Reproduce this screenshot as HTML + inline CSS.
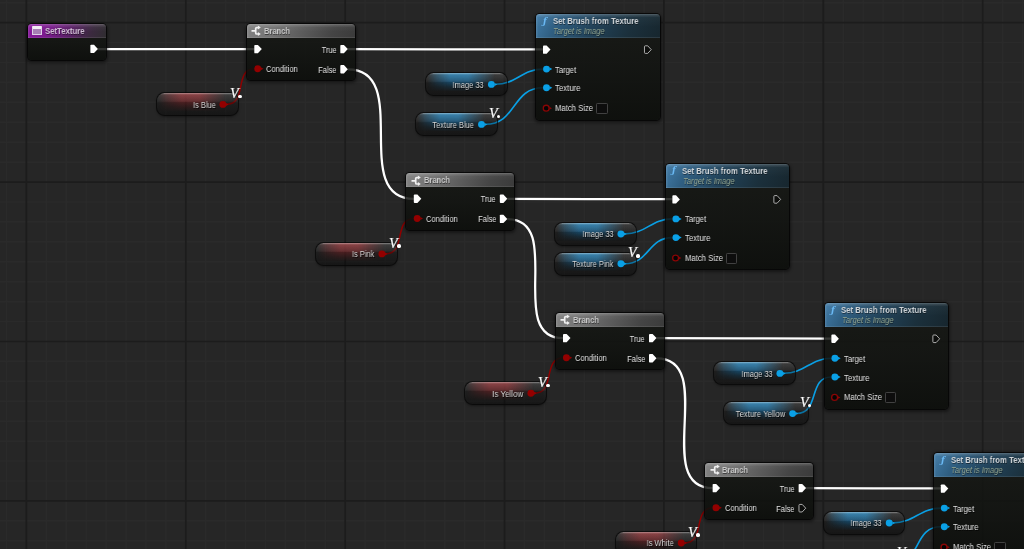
<!DOCTYPE html>
<html lang="en"><head><meta charset="utf-8"><title>SetTexture Blueprint</title>
<style>
*{margin:0;padding:0;box-sizing:border-box}
html,body{width:1024px;height:549px;overflow:hidden;background:#262626}
body{position:relative;font-family:"Liberation Sans",sans-serif;font-size:8.8px;color:#e4e4e4}
#grid{position:absolute;left:0;top:0;width:1024px;height:549px;}
#wires,#pins{position:absolute;left:0;top:0;width:1024px;height:549px;overflow:hidden}
.node{position:absolute}
.bd{position:absolute;left:.5px;right:.5px;top:.55px;bottom:.1px;border-radius:4px;background:linear-gradient(180deg,rgba(22,24,20,.84) 0,rgba(17,19,16,.85) 50%,rgba(11,13,10,.87) 100%);
 box-shadow:0 0 0 1px rgba(4,4,4,.8),0 1.2px 3px 1.2px rgba(0,0,0,.42)}
.hd{position:absolute;left:0;top:0;right:0;border-radius:3.6px 3.6px 0 0;overflow:hidden}
.hd:after{content:"";position:absolute;left:0;top:0;right:0;bottom:0;
 background:linear-gradient(90deg,rgba(255,255,255,.12) 0,rgba(255,255,255,.05) 1.2px,rgba(255,255,255,0) 2.2px),linear-gradient(0deg,rgba(255,255,255,.09) 0,rgba(255,255,255,.09) .9px,rgba(255,255,255,0) 1px),
 linear-gradient(180deg,rgba(255,255,255,.26) 0,rgba(255,255,255,.13) 1.4px,rgba(255,255,255,.03) 3.5px,rgba(255,255,255,0) 55%)}
.t{position:absolute;white-space:nowrap;line-height:10px;height:10px;text-shadow:0.7px 0.8px 0.3px rgba(0,0,0,.85);
 transform-origin:0 50%;transform:scaleX(.85);will-change:transform}
.b{font-weight:bold;font-size:9.8px;transform:scaleX(.79);text-shadow:0.6px 0.7px 0.5px rgba(0,0,0,.45)}
.r{text-align:right;transform-origin:100% 50%}
.var{position:absolute;border-radius:7.5px;height:22.5px;
 box-shadow:0 0 0 1px rgba(6,6,6,.7),0 1.5px 2.5px .4px rgba(0,0,0,.42);overflow:hidden}
.var i{position:absolute;left:0;top:0;right:0;bottom:0;border-radius:7.5px}
.vg{position:absolute;font-family:"Liberation Serif",serif;font-style:italic;color:#fff;
 font-size:14.4px;line-height:15px;white-space:nowrap;will-change:transform;-webkit-text-stroke:.2px #fff;transform-origin:0 100%;transform:scaleX(.98)}
.vd{position:absolute;width:3.7px;height:3.7px;border-radius:50%;background:#fff}
.cb{position:absolute;width:11.6px;height:10.5px;background:#0d0d0d;border:1px solid #414141;border-radius:1.2px}
</style></head>
<body>
<svg id="grid" width="1024" height="549" viewBox="0 0 1024 549"><rect width="1024" height="549" fill="#262626"/><path d="M6.48,0V549M46.32,0V549M66.25,0V549M86.17,0V549M106.09,0V549M126.01,0V549M145.94,0V549M165.86,0V549M205.71,0V549M225.63,0V549M245.55,0V549M265.48,0V549M285.40,0V549M305.32,0V549M325.24,0V549M365.09,0V549M385.01,0V549M404.94,0V549M424.86,0V549M444.78,0V549M464.71,0V549M484.63,0V549M524.47,0V549M544.40,0V549M564.32,0V549M584.24,0V549M604.17,0V549M624.09,0V549M644.01,0V549M683.86,0V549M703.78,0V549M723.70,0V549M743.63,0V549M763.55,0V549M783.47,0V549M803.40,0V549M843.24,0V549M863.17,0V549M883.09,0V549M903.01,0V549M922.93,0V549M942.86,0V549M962.78,0V549M1002.63,0V549M1022.55,0V549M0,2.67H1024M0,42.53H1024M0,62.46H1024M0,82.39H1024M0,102.32H1024M0,122.25H1024M0,142.18H1024M0,162.11H1024M0,201.97H1024M0,221.90H1024M0,241.83H1024M0,261.76H1024M0,281.69H1024M0,301.62H1024M0,321.55H1024M0,361.41H1024M0,381.34H1024M0,401.27H1024M0,421.20H1024M0,441.13H1024M0,461.06H1024M0,480.99H1024M0,520.85H1024M0,540.78H1024" stroke="#2a2a2a" stroke-width="1.6" fill="none"/><path d="M26.40,0V549M185.78,0V549M345.17,0V549M504.55,0V549M663.94,0V549M823.32,0V549M982.70,0V549M0,22.60H1024M0,182.04H1024M0,341.48H1024M0,500.92H1024" stroke="#1c1c1c" stroke-width="1.7" fill="none"/></svg>
<svg id="wires" width="1024" height="549" viewBox="0 0 1024 549" fill="none" stroke-linecap="butt"><path d="M97.5,49.2 C149.8,49.2 202.2,49.2 254.5,49.2" stroke="#ffffff" stroke-width="2.25"/><path d="M347.8,49.2 C413.0,49.2 478.0,49.4 543.2,49.4" stroke="#ffffff" stroke-width="2.25"/><path d="M347.8,69.3 C413.1,69.3 348.7,198.9 414.0,198.9" stroke="#ffffff" stroke-width="2.25"/><path d="M226.5,104.3 C247.8,104.3 233.5,68.8 254.8,68.8" stroke="#8e0000" stroke-width="1.5"/><path d="M495.3,84.3 C516.3,84.3 522.0,69.1 543.0,69.1" stroke="#0a9fe4" stroke-width="1.6"/><path d="M485.4,124.3 C516.8,124.3 511.6,87.8 543.0,87.8" stroke="#0a9fe4" stroke-width="1.6"/><path d="M507.3,198.9 C562.5,198.9 617.4,199.2 672.6,199.2" stroke="#ffffff" stroke-width="2.25"/><path d="M507.3,219.0 C565.7,219.0 504.8,338.2 563.2,338.2" stroke="#ffffff" stroke-width="2.25"/><path d="M385.5,253.8 C406.9,253.8 392.9,218.5 414.3,218.5" stroke="#8e0000" stroke-width="1.5"/><path d="M624.8,233.9 C645.7,233.9 651.5,218.9 672.4,218.9" stroke="#0a9fe4" stroke-width="1.6"/><path d="M624.8,263.7 C649.4,263.7 647.8,237.6 672.4,237.6" stroke="#0a9fe4" stroke-width="1.6"/><path d="M656.5,338.2 C715.0,338.2 773.1,338.6 831.6,338.6" stroke="#ffffff" stroke-width="2.25"/><path d="M656.5,358.3 C718.6,358.3 650.7,488.2 712.8,488.2" stroke="#ffffff" stroke-width="2.25"/><path d="M534.5,393.2 C556.0,393.2 542.0,357.8 563.5,357.8" stroke="#8e0000" stroke-width="1.5"/><path d="M783.8,373.3 C804.7,373.3 810.5,358.3 831.4,358.3" stroke="#0a9fe4" stroke-width="1.6"/><path d="M796.5,413.5 C820.3,413.5 807.6,377.0 831.4,377.0" stroke="#0a9fe4" stroke-width="1.6"/><path d="M806.1,488.2 C851.1,488.2 896.0,488.4 941.0,488.4" stroke="#ffffff" stroke-width="2.25"/><path d="M684.8,542.9 C705.9,542.9 692.0,507.8 713.1,507.8" stroke="#8e0000" stroke-width="1.5"/><path d="M893.1,522.9 C913.9,522.9 920.0,508.1 940.8,508.1" stroke="#0a9fe4" stroke-width="1.6"/><path d="M894.1,562.8 C921.7,562.8 913.2,526.8 940.8,526.8" stroke="#0a9fe4" stroke-width="1.6"/></svg>
<div class="node" style="left:27.4px;top:23px;width:79px;height:37px"><div class="bd"><div class="hd" style="height:14.5px;background:linear-gradient(108deg,#8a1a9e 0%,#771b89 30%,#581f64 55%,#3b2a3f 80%,#2f2d30 100%)"></div></div><div style="position:absolute;left:4.6px;top:3.1px;width:9.8px;height:8.6px;border:1px solid #dfcfe6;border-top:3px solid #f3ecf6;background:#a77fb5;border-radius:.8px"></div><div class="t b" style="left:17.4px;top:3.1px;color:#d0bfd5">SetTexture</div></div>
<div class="node" style="left:246.3px;top:23px;width:109px;height:57px"><div class="bd"><div class="hd" style="height:14px;background:linear-gradient(110deg,#838383 0%,#737373 25%,#5d5d5d 50%,#454545 78%,#3b3b3b 100%)"></div></div><svg style="position:absolute;left:0;top:0" width="20" height="15" viewBox="0 0 20 15" fill="none" stroke="#f0f0f0" stroke-width="1.7"><path d="M5.5,7.8 H9.4 M12.6,4.6 H10.7 Q9.7,4.6 9.7,5.6 V10 Q9.7,11 10.7,11 H12.6"/><path d="M11.9,2.6 L14.8,4.6 L11.9,6.6 Z M11.9,9 L14.8,11 L11.9,13 Z" fill="#f0f0f0" stroke="none"/></svg><div class="t b" style="left:17.8px;top:2.6px;color:#c8c8c8;transform:scaleX(.77)">Branch</div><div class="t" style="left:20px;top:40.9px">Condition</div><div class="t r" style="right:18.8px;top:21.7px">True</div><div class="t r" style="right:18.7px;top:41.8px">False</div></div>
<div class="node" style="left:405.8px;top:172.7px;width:109px;height:57px"><div class="bd"><div class="hd" style="height:14px;background:linear-gradient(110deg,#838383 0%,#737373 25%,#5d5d5d 50%,#454545 78%,#3b3b3b 100%)"></div></div><svg style="position:absolute;left:0;top:0" width="20" height="15" viewBox="0 0 20 15" fill="none" stroke="#f0f0f0" stroke-width="1.7"><path d="M5.5,7.8 H9.4 M12.6,4.6 H10.7 Q9.7,4.6 9.7,5.6 V10 Q9.7,11 10.7,11 H12.6"/><path d="M11.9,2.6 L14.8,4.6 L11.9,6.6 Z M11.9,9 L14.8,11 L11.9,13 Z" fill="#f0f0f0" stroke="none"/></svg><div class="t b" style="left:17.8px;top:2.6px;color:#c8c8c8;transform:scaleX(.77)">Branch</div><div class="t" style="left:20px;top:40.9px">Condition</div><div class="t r" style="right:18.8px;top:21.7px">True</div><div class="t r" style="right:18.7px;top:41.8px">False</div></div>
<div class="node" style="left:555px;top:312px;width:109px;height:57px"><div class="bd"><div class="hd" style="height:14px;background:linear-gradient(110deg,#838383 0%,#737373 25%,#5d5d5d 50%,#454545 78%,#3b3b3b 100%)"></div></div><svg style="position:absolute;left:0;top:0" width="20" height="15" viewBox="0 0 20 15" fill="none" stroke="#f0f0f0" stroke-width="1.7"><path d="M5.5,7.8 H9.4 M12.6,4.6 H10.7 Q9.7,4.6 9.7,5.6 V10 Q9.7,11 10.7,11 H12.6"/><path d="M11.9,2.6 L14.8,4.6 L11.9,6.6 Z M11.9,9 L14.8,11 L11.9,13 Z" fill="#f0f0f0" stroke="none"/></svg><div class="t b" style="left:17.8px;top:2.6px;color:#c8c8c8;transform:scaleX(.77)">Branch</div><div class="t" style="left:20px;top:40.9px">Condition</div><div class="t r" style="right:18.8px;top:21.7px">True</div><div class="t r" style="right:18.7px;top:41.8px">False</div></div>
<div class="node" style="left:704.6px;top:462px;width:109px;height:57px"><div class="bd"><div class="hd" style="height:14px;background:linear-gradient(110deg,#838383 0%,#737373 25%,#5d5d5d 50%,#454545 78%,#3b3b3b 100%)"></div></div><svg style="position:absolute;left:0;top:0" width="20" height="15" viewBox="0 0 20 15" fill="none" stroke="#f0f0f0" stroke-width="1.7"><path d="M5.5,7.8 H9.4 M12.6,4.6 H10.7 Q9.7,4.6 9.7,5.6 V10 Q9.7,11 10.7,11 H12.6"/><path d="M11.9,2.6 L14.8,4.6 L11.9,6.6 Z M11.9,9 L14.8,11 L11.9,13 Z" fill="#f0f0f0" stroke="none"/></svg><div class="t b" style="left:17.8px;top:2.6px;color:#c8c8c8;transform:scaleX(.77)">Branch</div><div class="t" style="left:20px;top:40.9px">Condition</div><div class="t r" style="right:18.8px;top:21.7px">True</div><div class="t r" style="right:18.7px;top:41.8px">False</div></div>
<div class="node" style="left:535.6px;top:13.2px;width:124.7px;height:106.5px"><div class="bd"><div class="hd" style="height:24.2px;background:linear-gradient(116deg,#427ca8 0%,#305f82 18%,#22435a 45%,#1b303c 75%,#17262e 100%)"></div></div><div class="t" style="left:7.4px;top:2.4px;font-family:DejaVu Serif,serif;font-style:italic;font-weight:bold;font-size:8.8px;color:#6ab9f4;text-shadow:none;transform:none">&#402;</div><div class="t b" style="left:17.2px;top:3.1px;color:#ced3d7">Set Brush from Texture</div><div class="t" style="left:17.6px;top:12.8px;font-style:italic;color:#93a590;font-size:9px;transform:scaleX(.835);text-shadow:0.5px 0.6px 0.3px rgba(0,0,0,.45)">Target is Image</div><div class="t" style="left:19.7px;top:51.4px;transform:scaleX(.866)">Target</div><div class="t" style="left:19.7px;top:70.3px;transform:scaleX(.884)">Texture</div><div class="t" style="left:19.6px;top:90px;transform:scaleX(.875)">Match Size</div><div class="cb" style="left:60.9px;top:90.1px"></div></div>
<div class="node" style="left:665px;top:163px;width:124.7px;height:106.5px"><div class="bd"><div class="hd" style="height:24.2px;background:linear-gradient(116deg,#427ca8 0%,#305f82 18%,#22435a 45%,#1b303c 75%,#17262e 100%)"></div></div><div class="t" style="left:7.4px;top:2.4px;font-family:DejaVu Serif,serif;font-style:italic;font-weight:bold;font-size:8.8px;color:#6ab9f4;text-shadow:none;transform:none">&#402;</div><div class="t b" style="left:17.2px;top:3.1px;color:#ced3d7">Set Brush from Texture</div><div class="t" style="left:17.6px;top:12.8px;font-style:italic;color:#93a590;font-size:9px;transform:scaleX(.835);text-shadow:0.5px 0.6px 0.3px rgba(0,0,0,.45)">Target is Image</div><div class="t" style="left:19.7px;top:51.4px;transform:scaleX(.866)">Target</div><div class="t" style="left:19.7px;top:70.3px;transform:scaleX(.884)">Texture</div><div class="t" style="left:19.6px;top:90px;transform:scaleX(.875)">Match Size</div><div class="cb" style="left:60.9px;top:90.1px"></div></div>
<div class="node" style="left:824px;top:302.4px;width:124.7px;height:106.5px"><div class="bd"><div class="hd" style="height:24.2px;background:linear-gradient(116deg,#427ca8 0%,#305f82 18%,#22435a 45%,#1b303c 75%,#17262e 100%)"></div></div><div class="t" style="left:7.4px;top:2.4px;font-family:DejaVu Serif,serif;font-style:italic;font-weight:bold;font-size:8.8px;color:#6ab9f4;text-shadow:none;transform:none">&#402;</div><div class="t b" style="left:17.2px;top:3.1px;color:#ced3d7">Set Brush from Texture</div><div class="t" style="left:17.6px;top:12.8px;font-style:italic;color:#93a590;font-size:9px;transform:scaleX(.835);text-shadow:0.5px 0.6px 0.3px rgba(0,0,0,.45)">Target is Image</div><div class="t" style="left:19.7px;top:51.4px;transform:scaleX(.866)">Target</div><div class="t" style="left:19.7px;top:70.3px;transform:scaleX(.884)">Texture</div><div class="t" style="left:19.6px;top:90px;transform:scaleX(.875)">Match Size</div><div class="cb" style="left:60.9px;top:90.1px"></div></div>
<div class="node" style="left:933.4px;top:452.2px;width:124.7px;height:106.5px"><div class="bd"><div class="hd" style="height:24.2px;background:linear-gradient(116deg,#427ca8 0%,#305f82 18%,#22435a 45%,#1b303c 75%,#17262e 100%)"></div></div><div class="t" style="left:7.4px;top:2.4px;font-family:DejaVu Serif,serif;font-style:italic;font-weight:bold;font-size:8.8px;color:#6ab9f4;text-shadow:none;transform:none">&#402;</div><div class="t b" style="left:17.2px;top:3.1px;color:#ced3d7">Set Brush from Texture</div><div class="t" style="left:17.6px;top:12.8px;font-style:italic;color:#93a590;font-size:9px;transform:scaleX(.835);text-shadow:0.5px 0.6px 0.3px rgba(0,0,0,.45)">Target is Image</div><div class="t" style="left:19.7px;top:51.4px;transform:scaleX(.866)">Target</div><div class="t" style="left:19.7px;top:70.3px;transform:scaleX(.884)">Texture</div><div class="t" style="left:19.6px;top:90px;transform:scaleX(.875)">Match Size</div><div class="cb" style="left:60.9px;top:90.1px"></div></div>
<div class="var" style="left:157.4px;top:93.2px;width:80.7px;height:22.1px;background:linear-gradient(180deg,rgba(30,30,30,.3) 0%,rgba(12,12,12,.3) 45%,rgba(0,0,0,.42) 100%)"><i style="background:linear-gradient(180deg,rgba(160,46,50,.74) 0,rgba(138,40,44,.56) 38%,rgba(112,32,36,.52) 42%,rgba(100,28,30,.28) 62%,rgba(90,25,28,0) 84%);-webkit-mask-image:linear-gradient(90deg,rgba(0,0,0,0) 2%,rgba(0,0,0,.5) 14%,#000 30%,#000 52%,rgba(0,0,0,.5) 68%,rgba(0,0,0,0) 85%);mask-image:linear-gradient(90deg,rgba(0,0,0,0) 2%,rgba(0,0,0,.5) 14%,#000 30%,#000 52%,rgba(0,0,0,.5) 68%,rgba(0,0,0,0) 85%)"></i><i style="background:linear-gradient(180deg,rgba(255,255,255,.5) 0,rgba(255,255,255,.22) 1px,rgba(255,255,255,.11) 2.2px,rgba(255,255,255,.05) 37%,rgba(255,255,255,0) 43%)"></i><div class="t r" style="right:22.5px;top:6.7px;font-size:8.8px;color:#d6d6d6;transform:scaleX(0.855)">Is Blue</div></div>
<div class="vg" style="left:229.9px;top:86.0px">V</div><div class="vd" style="left:237.9px;top:94.6px"></div>
<div class="var" style="left:316.4px;top:242.7px;width:80.7px;height:22.1px;background:linear-gradient(180deg,rgba(30,30,30,.3) 0%,rgba(12,12,12,.3) 45%,rgba(0,0,0,.42) 100%)"><i style="background:linear-gradient(180deg,rgba(160,46,50,.74) 0,rgba(138,40,44,.56) 38%,rgba(112,32,36,.52) 42%,rgba(100,28,30,.28) 62%,rgba(90,25,28,0) 84%);-webkit-mask-image:linear-gradient(90deg,rgba(0,0,0,0) 2%,rgba(0,0,0,.5) 14%,#000 30%,#000 52%,rgba(0,0,0,.5) 68%,rgba(0,0,0,0) 85%);mask-image:linear-gradient(90deg,rgba(0,0,0,0) 2%,rgba(0,0,0,.5) 14%,#000 30%,#000 52%,rgba(0,0,0,.5) 68%,rgba(0,0,0,0) 85%)"></i><i style="background:linear-gradient(180deg,rgba(255,255,255,.5) 0,rgba(255,255,255,.22) 1px,rgba(255,255,255,.11) 2.2px,rgba(255,255,255,.05) 37%,rgba(255,255,255,0) 43%)"></i><div class="t r" style="right:22.5px;top:6.7px;font-size:8.8px;color:#d6d6d6;transform:scaleX(0.855)">Is Pink</div></div>
<div class="vg" style="left:388.9px;top:235.5px">V</div><div class="vd" style="left:396.9px;top:244.1px"></div>
<div class="var" style="left:465.4px;top:382.1px;width:80.7px;height:22.1px;background:linear-gradient(180deg,rgba(30,30,30,.3) 0%,rgba(12,12,12,.3) 45%,rgba(0,0,0,.42) 100%)"><i style="background:linear-gradient(180deg,rgba(160,46,50,.74) 0,rgba(138,40,44,.56) 38%,rgba(112,32,36,.52) 42%,rgba(100,28,30,.28) 62%,rgba(90,25,28,0) 84%);-webkit-mask-image:linear-gradient(90deg,rgba(0,0,0,0) 2%,rgba(0,0,0,.5) 14%,#000 30%,#000 52%,rgba(0,0,0,.5) 68%,rgba(0,0,0,0) 85%);mask-image:linear-gradient(90deg,rgba(0,0,0,0) 2%,rgba(0,0,0,.5) 14%,#000 30%,#000 52%,rgba(0,0,0,.5) 68%,rgba(0,0,0,0) 85%)"></i><i style="background:linear-gradient(180deg,rgba(255,255,255,.5) 0,rgba(255,255,255,.22) 1px,rgba(255,255,255,.11) 2.2px,rgba(255,255,255,.05) 37%,rgba(255,255,255,0) 43%)"></i><div class="t r" style="right:22.5px;top:6.7px;font-size:8.8px;color:#d6d6d6;transform:scaleX(0.91)">Is Yellow</div></div>
<div class="vg" style="left:537.9px;top:374.9px">V</div><div class="vd" style="left:546.0px;top:383.5px"></div>
<div class="var" style="left:615.7px;top:531.8px;width:80.7px;height:22.1px;background:linear-gradient(180deg,rgba(30,30,30,.3) 0%,rgba(12,12,12,.3) 45%,rgba(0,0,0,.42) 100%)"><i style="background:linear-gradient(180deg,rgba(160,46,50,.74) 0,rgba(138,40,44,.56) 38%,rgba(112,32,36,.52) 42%,rgba(100,28,30,.28) 62%,rgba(90,25,28,0) 84%);-webkit-mask-image:linear-gradient(90deg,rgba(0,0,0,0) 2%,rgba(0,0,0,.5) 14%,#000 30%,#000 52%,rgba(0,0,0,.5) 68%,rgba(0,0,0,0) 85%);mask-image:linear-gradient(90deg,rgba(0,0,0,0) 2%,rgba(0,0,0,.5) 14%,#000 30%,#000 52%,rgba(0,0,0,.5) 68%,rgba(0,0,0,0) 85%)"></i><i style="background:linear-gradient(180deg,rgba(255,255,255,.5) 0,rgba(255,255,255,.22) 1px,rgba(255,255,255,.11) 2.2px,rgba(255,255,255,.05) 37%,rgba(255,255,255,0) 43%)"></i><div class="t r" style="right:22.5px;top:6.7px;font-size:8.8px;color:#d6d6d6;transform:scaleX(0.855)">Is White</div></div>
<div class="vg" style="left:688.2px;top:524.6px">V</div><div class="vd" style="left:696.2px;top:533.2px"></div>
<div class="var" style="left:425.9px;top:73.2px;width:80.7px;height:22.1px;background:linear-gradient(180deg,rgba(30,30,30,.3) 0%,rgba(12,12,12,.3) 45%,rgba(0,0,0,.42) 100%)"><i style="background:linear-gradient(180deg,rgba(34,140,200,.82) 0,rgba(26,114,170,.62) 38%,rgba(18,92,138,.6) 42%,rgba(14,72,108,.34) 62%,rgba(10,50,80,0) 84%);-webkit-mask-image:linear-gradient(90deg,rgba(0,0,0,0) 2%,rgba(0,0,0,.5) 14%,#000 30%,#000 52%,rgba(0,0,0,.5) 68%,rgba(0,0,0,0) 85%);mask-image:linear-gradient(90deg,rgba(0,0,0,0) 2%,rgba(0,0,0,.5) 14%,#000 30%,#000 52%,rgba(0,0,0,.5) 68%,rgba(0,0,0,0) 85%)"></i><i style="background:linear-gradient(180deg,rgba(255,255,255,.5) 0,rgba(255,255,255,.22) 1px,rgba(255,255,255,.11) 2.2px,rgba(255,255,255,.05) 37%,rgba(255,255,255,0) 43%)"></i><div class="t r" style="right:22.5px;top:6.7px;font-size:8.8px;color:#d6d6d6;transform:scaleX(0.85)">Image 33</div></div>
<div class="var" style="left:555.4px;top:222.8px;width:80.7px;height:22.1px;background:linear-gradient(180deg,rgba(30,30,30,.3) 0%,rgba(12,12,12,.3) 45%,rgba(0,0,0,.42) 100%)"><i style="background:linear-gradient(180deg,rgba(34,140,200,.82) 0,rgba(26,114,170,.62) 38%,rgba(18,92,138,.6) 42%,rgba(14,72,108,.34) 62%,rgba(10,50,80,0) 84%);-webkit-mask-image:linear-gradient(90deg,rgba(0,0,0,0) 2%,rgba(0,0,0,.5) 14%,#000 30%,#000 52%,rgba(0,0,0,.5) 68%,rgba(0,0,0,0) 85%);mask-image:linear-gradient(90deg,rgba(0,0,0,0) 2%,rgba(0,0,0,.5) 14%,#000 30%,#000 52%,rgba(0,0,0,.5) 68%,rgba(0,0,0,0) 85%)"></i><i style="background:linear-gradient(180deg,rgba(255,255,255,.5) 0,rgba(255,255,255,.22) 1px,rgba(255,255,255,.11) 2.2px,rgba(255,255,255,.05) 37%,rgba(255,255,255,0) 43%)"></i><div class="t r" style="right:22.5px;top:6.7px;font-size:8.8px;color:#d6d6d6;transform:scaleX(0.85)">Image 33</div></div>
<div class="var" style="left:714.4px;top:362.2px;width:80.7px;height:22.1px;background:linear-gradient(180deg,rgba(30,30,30,.3) 0%,rgba(12,12,12,.3) 45%,rgba(0,0,0,.42) 100%)"><i style="background:linear-gradient(180deg,rgba(34,140,200,.82) 0,rgba(26,114,170,.62) 38%,rgba(18,92,138,.6) 42%,rgba(14,72,108,.34) 62%,rgba(10,50,80,0) 84%);-webkit-mask-image:linear-gradient(90deg,rgba(0,0,0,0) 2%,rgba(0,0,0,.5) 14%,#000 30%,#000 52%,rgba(0,0,0,.5) 68%,rgba(0,0,0,0) 85%);mask-image:linear-gradient(90deg,rgba(0,0,0,0) 2%,rgba(0,0,0,.5) 14%,#000 30%,#000 52%,rgba(0,0,0,.5) 68%,rgba(0,0,0,0) 85%)"></i><i style="background:linear-gradient(180deg,rgba(255,255,255,.5) 0,rgba(255,255,255,.22) 1px,rgba(255,255,255,.11) 2.2px,rgba(255,255,255,.05) 37%,rgba(255,255,255,0) 43%)"></i><div class="t r" style="right:22.5px;top:6.7px;font-size:8.8px;color:#d6d6d6;transform:scaleX(0.85)">Image 33</div></div>
<div class="var" style="left:823.7px;top:511.8px;width:80.7px;height:22.1px;background:linear-gradient(180deg,rgba(30,30,30,.3) 0%,rgba(12,12,12,.3) 45%,rgba(0,0,0,.42) 100%)"><i style="background:linear-gradient(180deg,rgba(34,140,200,.82) 0,rgba(26,114,170,.62) 38%,rgba(18,92,138,.6) 42%,rgba(14,72,108,.34) 62%,rgba(10,50,80,0) 84%);-webkit-mask-image:linear-gradient(90deg,rgba(0,0,0,0) 2%,rgba(0,0,0,.5) 14%,#000 30%,#000 52%,rgba(0,0,0,.5) 68%,rgba(0,0,0,0) 85%);mask-image:linear-gradient(90deg,rgba(0,0,0,0) 2%,rgba(0,0,0,.5) 14%,#000 30%,#000 52%,rgba(0,0,0,.5) 68%,rgba(0,0,0,0) 85%)"></i><i style="background:linear-gradient(180deg,rgba(255,255,255,.5) 0,rgba(255,255,255,.22) 1px,rgba(255,255,255,.11) 2.2px,rgba(255,255,255,.05) 37%,rgba(255,255,255,0) 43%)"></i><div class="t r" style="right:22.5px;top:6.7px;font-size:8.8px;color:#d6d6d6;transform:scaleX(0.85)">Image 33</div></div>
<div class="var" style="left:416.0px;top:113.2px;width:80.7px;height:22.1px;background:linear-gradient(180deg,rgba(30,30,30,.3) 0%,rgba(12,12,12,.3) 45%,rgba(0,0,0,.42) 100%)"><i style="background:linear-gradient(180deg,rgba(34,140,200,.82) 0,rgba(26,114,170,.62) 38%,rgba(18,92,138,.6) 42%,rgba(14,72,108,.34) 62%,rgba(10,50,80,0) 84%);-webkit-mask-image:linear-gradient(90deg,rgba(0,0,0,0) 2%,rgba(0,0,0,.5) 14%,#000 30%,#000 52%,rgba(0,0,0,.5) 68%,rgba(0,0,0,0) 85%);mask-image:linear-gradient(90deg,rgba(0,0,0,0) 2%,rgba(0,0,0,.5) 14%,#000 30%,#000 52%,rgba(0,0,0,.5) 68%,rgba(0,0,0,0) 85%)"></i><i style="background:linear-gradient(180deg,rgba(255,255,255,.5) 0,rgba(255,255,255,.22) 1px,rgba(255,255,255,.11) 2.2px,rgba(255,255,255,.05) 37%,rgba(255,255,255,0) 43%)"></i><div class="t r" style="right:22.5px;top:6.7px;font-size:8.8px;color:#d6d6d6;transform:scaleX(0.85)">Texture Blue</div></div>
<div class="vg" style="left:488.5px;top:106.0px">V</div><div class="vd" style="left:496.6px;top:114.6px"></div>
<div class="var" style="left:555.4px;top:252.6px;width:80.7px;height:22.1px;background:linear-gradient(180deg,rgba(30,30,30,.3) 0%,rgba(12,12,12,.3) 45%,rgba(0,0,0,.42) 100%)"><i style="background:linear-gradient(180deg,rgba(34,140,200,.82) 0,rgba(26,114,170,.62) 38%,rgba(18,92,138,.6) 42%,rgba(14,72,108,.34) 62%,rgba(10,50,80,0) 84%);-webkit-mask-image:linear-gradient(90deg,rgba(0,0,0,0) 2%,rgba(0,0,0,.5) 14%,#000 30%,#000 52%,rgba(0,0,0,.5) 68%,rgba(0,0,0,0) 85%);mask-image:linear-gradient(90deg,rgba(0,0,0,0) 2%,rgba(0,0,0,.5) 14%,#000 30%,#000 52%,rgba(0,0,0,.5) 68%,rgba(0,0,0,0) 85%)"></i><i style="background:linear-gradient(180deg,rgba(255,255,255,.5) 0,rgba(255,255,255,.22) 1px,rgba(255,255,255,.11) 2.2px,rgba(255,255,255,.05) 37%,rgba(255,255,255,0) 43%)"></i><div class="t r" style="right:22.5px;top:6.7px;font-size:8.8px;color:#d6d6d6;transform:scaleX(0.85)">Texture Pink</div></div>
<div class="vg" style="left:627.9px;top:245.4px">V</div><div class="vd" style="left:636.0px;top:254.0px"></div>
<div class="var" style="left:724.1px;top:402.4px;width:83.7px;height:22.1px;background:linear-gradient(180deg,rgba(30,30,30,.3) 0%,rgba(12,12,12,.3) 45%,rgba(0,0,0,.42) 100%)"><i style="background:linear-gradient(180deg,rgba(34,140,200,.82) 0,rgba(26,114,170,.62) 38%,rgba(18,92,138,.6) 42%,rgba(14,72,108,.34) 62%,rgba(10,50,80,0) 84%);-webkit-mask-image:linear-gradient(90deg,rgba(0,0,0,0) 2%,rgba(0,0,0,.5) 14%,#000 30%,#000 52%,rgba(0,0,0,.5) 68%,rgba(0,0,0,0) 85%);mask-image:linear-gradient(90deg,rgba(0,0,0,0) 2%,rgba(0,0,0,.5) 14%,#000 30%,#000 52%,rgba(0,0,0,.5) 68%,rgba(0,0,0,0) 85%)"></i><i style="background:linear-gradient(180deg,rgba(255,255,255,.5) 0,rgba(255,255,255,.22) 1px,rgba(255,255,255,.11) 2.2px,rgba(255,255,255,.05) 37%,rgba(255,255,255,0) 43%)"></i><div class="t r" style="right:22.5px;top:6.7px;font-size:8.8px;color:#d6d6d6;transform:scaleX(0.882)">Texture Yellow</div></div>
<div class="vg" style="left:799.6px;top:395.2px">V</div><div class="vd" style="left:807.7px;top:403.8px"></div>
<div class="var" style="left:822.2px;top:551.7px;width:83.2px;height:22.1px;background:linear-gradient(180deg,rgba(30,30,30,.3) 0%,rgba(12,12,12,.3) 45%,rgba(0,0,0,.42) 100%)"><i style="background:linear-gradient(180deg,rgba(34,140,200,.82) 0,rgba(26,114,170,.62) 38%,rgba(18,92,138,.6) 42%,rgba(14,72,108,.34) 62%,rgba(10,50,80,0) 84%);-webkit-mask-image:linear-gradient(90deg,rgba(0,0,0,0) 2%,rgba(0,0,0,.5) 14%,#000 30%,#000 52%,rgba(0,0,0,.5) 68%,rgba(0,0,0,0) 85%);mask-image:linear-gradient(90deg,rgba(0,0,0,0) 2%,rgba(0,0,0,.5) 14%,#000 30%,#000 52%,rgba(0,0,0,.5) 68%,rgba(0,0,0,0) 85%)"></i><i style="background:linear-gradient(180deg,rgba(255,255,255,.5) 0,rgba(255,255,255,.22) 1px,rgba(255,255,255,.11) 2.2px,rgba(255,255,255,.05) 37%,rgba(255,255,255,0) 43%)"></i><div class="t r" style="right:22.5px;top:6.7px;font-size:8.8px;color:#d6d6d6;transform:scaleX(0.85)">Texture White</div></div>
<div class="vg" style="left:897.2px;top:544.5px">V</div><div class="vd" style="left:905.2px;top:553.1px"></div>
<svg id="pins" width="1024" height="549" viewBox="0 0 1024 549"><path d="M91.30,44.70 L94.00,44.70 L97.90,48.90 L94.00,53.10 L91.30,53.10 Q90.40,53.10 90.40,52.20 L90.40,45.60 Q90.40,44.70 91.30,44.70 Z" fill="#fff"/><path d="M255.20,44.90 L257.90,44.90 L261.80,49.10 L257.90,53.30 L255.20,53.30 Q254.30,53.30 254.30,52.40 L254.30,45.80 Q254.30,44.90 255.20,44.90 Z" fill="#fff"/><path d="M341.20,44.90 L343.90,44.90 L347.80,49.10 L343.90,53.30 L341.20,53.30 Q340.30,53.30 340.30,52.40 L340.30,45.80 Q340.30,44.90 341.20,44.90 Z" fill="#fff"/><path d="M341.20,65.00 L343.90,65.00 L347.80,69.20 L343.90,73.40 L341.20,73.40 Q340.30,73.40 340.30,72.50 L340.30,65.90 Q340.30,65.00 341.20,65.00 Z" fill="#fff"/><path d="M260.80,67.30 L263.50,68.80 L260.80,70.30 Z" fill="#930000"/><circle cx="257.70" cy="68.80" r="3.45" fill="#930000"/><path d="M414.70,194.60 L417.40,194.60 L421.30,198.80 L417.40,203.00 L414.70,203.00 Q413.80,203.00 413.80,202.10 L413.80,195.50 Q413.80,194.60 414.70,194.60 Z" fill="#fff"/><path d="M500.70,194.60 L503.40,194.60 L507.30,198.80 L503.40,203.00 L500.70,203.00 Q499.80,203.00 499.80,202.10 L499.80,195.50 Q499.80,194.60 500.70,194.60 Z" fill="#fff"/><path d="M500.70,214.70 L503.40,214.70 L507.30,218.90 L503.40,223.10 L500.70,223.10 Q499.80,223.10 499.80,222.20 L499.80,215.60 Q499.80,214.70 500.70,214.70 Z" fill="#fff"/><path d="M420.30,217.00 L423.00,218.50 L420.30,220.00 Z" fill="#930000"/><circle cx="417.20" cy="218.50" r="3.45" fill="#930000"/><path d="M563.90,333.90 L566.60,333.90 L570.50,338.10 L566.60,342.30 L563.90,342.30 Q563.00,342.30 563.00,341.40 L563.00,334.80 Q563.00,333.90 563.90,333.90 Z" fill="#fff"/><path d="M649.90,333.90 L652.60,333.90 L656.50,338.10 L652.60,342.30 L649.90,342.30 Q649.00,342.30 649.00,341.40 L649.00,334.80 Q649.00,333.90 649.90,333.90 Z" fill="#fff"/><path d="M649.90,354.00 L652.60,354.00 L656.50,358.20 L652.60,362.40 L649.90,362.40 Q649.00,362.40 649.00,361.50 L649.00,354.90 Q649.00,354.00 649.90,354.00 Z" fill="#fff"/><path d="M569.50,356.30 L572.20,357.80 L569.50,359.30 Z" fill="#930000"/><circle cx="566.40" cy="357.80" r="3.45" fill="#930000"/><path d="M713.50,483.90 L716.20,483.90 L720.10,488.10 L716.20,492.30 L713.50,492.30 Q712.60,492.30 712.60,491.40 L712.60,484.80 Q712.60,483.90 713.50,483.90 Z" fill="#fff"/><path d="M799.50,483.90 L802.20,483.90 L806.10,488.10 L802.20,492.30 L799.50,492.30 Q798.60,492.30 798.60,491.40 L798.60,484.80 Q798.60,483.90 799.50,483.90 Z" fill="#fff"/><path d="M799.50,504.00 L802.20,504.00 L806.10,508.20 L802.20,512.40 L799.50,512.40 Q798.60,512.40 798.60,511.50 L798.60,504.90 Q798.60,504.00 799.50,504.00 Z" fill="#0d0e0c" stroke="#bdbdbd" stroke-width="1" stroke-linejoin="round" transform="translate(802.35 508.20) scale(.9) translate(-802.35 -508.20)"/><path d="M719.10,506.30 L721.80,507.80 L719.10,509.30 Z" fill="#930000"/><circle cx="716.00" cy="507.80" r="3.45" fill="#930000"/><path d="M543.90,45.40 L546.60,45.40 L550.50,49.60 L546.60,53.80 L543.90,53.80 Q543.00,53.80 543.00,52.90 L543.00,46.30 Q543.00,45.40 543.90,45.40 Z" fill="#fff"/><path d="M645.00,45.40 L647.70,45.40 L651.60,49.60 L647.70,53.80 L645.00,53.80 Q644.10,53.80 644.10,52.90 L644.10,46.30 Q644.10,45.40 645.00,45.40 Z" fill="#0d0e0c" stroke="#bdbdbd" stroke-width="1" stroke-linejoin="round" transform="translate(647.85 49.60) scale(.9) translate(-647.85 -49.60)"/><path d="M549.60,67.60 L552.30,69.10 L549.60,70.60 Z" fill="#0aa0e6"/><circle cx="546.50" cy="69.10" r="3.45" fill="#0aa0e6"/><path d="M549.60,86.30 L552.30,87.80 L549.60,89.30 Z" fill="#0aa0e6"/><circle cx="546.50" cy="87.80" r="3.45" fill="#0aa0e6"/><path d="M549.30,106.70 L552.00,108.20 L549.30,109.70 Z" fill="#8a0505"/><circle cx="546.20" cy="108.20" r="2.95" fill="#050505" stroke="#8a0505" stroke-width="1.3"/><path d="M673.30,195.20 L676.00,195.20 L679.90,199.40 L676.00,203.60 L673.30,203.60 Q672.40,203.60 672.40,202.70 L672.40,196.10 Q672.40,195.20 673.30,195.20 Z" fill="#fff"/><path d="M774.40,195.20 L777.10,195.20 L781.00,199.40 L777.10,203.60 L774.40,203.60 Q773.50,203.60 773.50,202.70 L773.50,196.10 Q773.50,195.20 774.40,195.20 Z" fill="#0d0e0c" stroke="#bdbdbd" stroke-width="1" stroke-linejoin="round" transform="translate(777.25 199.40) scale(.9) translate(-777.25 -199.40)"/><path d="M679.00,217.40 L681.70,218.90 L679.00,220.40 Z" fill="#0aa0e6"/><circle cx="675.90" cy="218.90" r="3.45" fill="#0aa0e6"/><path d="M679.00,236.10 L681.70,237.60 L679.00,239.10 Z" fill="#0aa0e6"/><circle cx="675.90" cy="237.60" r="3.45" fill="#0aa0e6"/><path d="M678.70,256.50 L681.40,258.00 L678.70,259.50 Z" fill="#8a0505"/><circle cx="675.60" cy="258.00" r="2.95" fill="#050505" stroke="#8a0505" stroke-width="1.3"/><path d="M832.30,334.60 L835.00,334.60 L838.90,338.80 L835.00,343.00 L832.30,343.00 Q831.40,343.00 831.40,342.10 L831.40,335.50 Q831.40,334.60 832.30,334.60 Z" fill="#fff"/><path d="M933.40,334.60 L936.10,334.60 L940.00,338.80 L936.10,343.00 L933.40,343.00 Q932.50,343.00 932.50,342.10 L932.50,335.50 Q932.50,334.60 933.40,334.60 Z" fill="#0d0e0c" stroke="#bdbdbd" stroke-width="1" stroke-linejoin="round" transform="translate(936.25 338.80) scale(.9) translate(-936.25 -338.80)"/><path d="M838.00,356.80 L840.70,358.30 L838.00,359.80 Z" fill="#0aa0e6"/><circle cx="834.90" cy="358.30" r="3.45" fill="#0aa0e6"/><path d="M838.00,375.50 L840.70,377.00 L838.00,378.50 Z" fill="#0aa0e6"/><circle cx="834.90" cy="377.00" r="3.45" fill="#0aa0e6"/><path d="M837.70,395.90 L840.40,397.40 L837.70,398.90 Z" fill="#8a0505"/><circle cx="834.60" cy="397.40" r="2.95" fill="#050505" stroke="#8a0505" stroke-width="1.3"/><path d="M941.70,484.40 L944.40,484.40 L948.30,488.60 L944.40,492.80 L941.70,492.80 Q940.80,492.80 940.80,491.90 L940.80,485.30 Q940.80,484.40 941.70,484.40 Z" fill="#fff"/><path d="M1042.80,484.40 L1045.50,484.40 L1049.40,488.60 L1045.50,492.80 L1042.80,492.80 Q1041.90,492.80 1041.90,491.90 L1041.90,485.30 Q1041.90,484.40 1042.80,484.40 Z" fill="#0d0e0c" stroke="#bdbdbd" stroke-width="1" stroke-linejoin="round" transform="translate(1045.65 488.60) scale(.9) translate(-1045.65 -488.60)"/><path d="M947.40,506.60 L950.10,508.10 L947.40,509.60 Z" fill="#0aa0e6"/><circle cx="944.30" cy="508.10" r="3.45" fill="#0aa0e6"/><path d="M947.40,525.30 L950.10,526.80 L947.40,528.30 Z" fill="#0aa0e6"/><circle cx="944.30" cy="526.80" r="3.45" fill="#0aa0e6"/><path d="M947.10,545.70 L949.80,547.20 L947.10,548.70 Z" fill="#8a0505"/><circle cx="944.00" cy="547.20" r="2.95" fill="#050505" stroke="#8a0505" stroke-width="1.3"/><path d="M226.00,102.90 L228.70,104.40 L226.00,105.90 Z" fill="#930000"/><circle cx="222.90" cy="104.40" r="3.45" fill="#930000"/><path d="M385.00,252.40 L387.70,253.90 L385.00,255.40 Z" fill="#930000"/><circle cx="381.90" cy="253.90" r="3.45" fill="#930000"/><path d="M534.00,391.80 L536.70,393.30 L534.00,394.80 Z" fill="#930000"/><circle cx="530.90" cy="393.30" r="3.45" fill="#930000"/><path d="M684.30,541.50 L687.00,543.00 L684.30,544.50 Z" fill="#930000"/><circle cx="681.20" cy="543.00" r="3.45" fill="#930000"/><path d="M494.50,82.90 L497.20,84.40 L494.50,85.90 Z" fill="#0aa0e6"/><circle cx="491.40" cy="84.40" r="3.45" fill="#0aa0e6"/><path d="M624.00,232.50 L626.70,234.00 L624.00,235.50 Z" fill="#0aa0e6"/><circle cx="620.90" cy="234.00" r="3.45" fill="#0aa0e6"/><path d="M783.00,371.90 L785.70,373.40 L783.00,374.90 Z" fill="#0aa0e6"/><circle cx="779.90" cy="373.40" r="3.45" fill="#0aa0e6"/><path d="M892.30,521.50 L895.00,523.00 L892.30,524.50 Z" fill="#0aa0e6"/><circle cx="889.20" cy="523.00" r="3.45" fill="#0aa0e6"/><path d="M484.60,122.90 L487.30,124.40 L484.60,125.90 Z" fill="#0aa0e6"/><circle cx="481.50" cy="124.40" r="3.45" fill="#0aa0e6"/><path d="M624.00,262.30 L626.70,263.80 L624.00,265.30 Z" fill="#0aa0e6"/><circle cx="620.90" cy="263.80" r="3.45" fill="#0aa0e6"/><path d="M795.70,412.10 L798.40,413.60 L795.70,415.10 Z" fill="#0aa0e6"/><circle cx="792.60" cy="413.60" r="3.45" fill="#0aa0e6"/><path d="M893.30,561.40 L896.00,562.90 L893.30,564.40 Z" fill="#0aa0e6"/><circle cx="890.20" cy="562.90" r="3.45" fill="#0aa0e6"/></svg>
</body></html>
